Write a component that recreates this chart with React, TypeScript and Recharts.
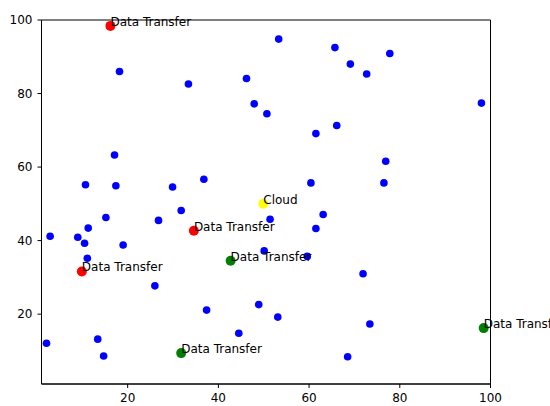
import { ReferenceArea, Scatter, ScatterChart, XAxis, YAxis } from 'recharts';

// plain network nodes (blue)
const nodeXs = [
  18.2, 33.4, 46.2, 47.9, 50.7, 17.1, 10.7, 17.4, 29.9, 36.8,
  53.3, 65.7, 77.8, 69.1, 72.7, 98.0, 66.1, 61.5, 76.9, 60.4, 76.5,
  51.4, 31.8, 26.8, 15.2, 2.9, 9.0, 11.3, 10.5, 19.0, 11.1, 50.1, 26.0, 37.4, 48.9, 53.1, 2.1, 13.4, 14.7, 44.5,
  63.1, 61.5, 59.6, 71.9, 73.4, 68.5,
];
const nodeYs = [
  86.0, 82.6, 84.1, 77.2, 74.5, 63.3, 55.2, 54.9, 54.6, 56.7,
  94.8, 92.5, 90.9, 88.0, 85.3, 77.4, 71.3, 69.1, 61.6, 55.7, 55.7,
  45.8, 48.2, 45.5, 46.3, 41.2, 40.9, 43.4, 39.3, 38.8, 35.2, 37.2, 27.7, 21.1, 22.6, 19.2, 12.1, 13.2, 8.6, 14.8,
  47.1, 43.3, 35.7, 31.0, 17.3, 8.4,
];

const redTransferXs = [16.2, 34.6, 9.9];
const redTransferYs = [98.4, 42.7, 31.6];
const greenTransferXs = [42.7, 31.8, 98.5];
const greenTransferYs = [34.5, 9.4, 16.2];
const cloudXs = [49.9];
const cloudYs = [50.0];

const transferLabel = 'Data Transfer';
const cloudLabel = 'Cloud';

const xTicks = [20, 40, 60, 80, 100];
const yTicks = [20, 40, 60, 80, 100];

type Pt = { x: number; y: number; label?: string };

const zip = (xs: number[], ys: number[], label?: string): Pt[] =>
  xs.map((x, i) => ({ x, y: ys[i], label }));

const nodes = zip(nodeXs, nodeYs);
const redTransfers = zip(redTransferXs, redTransferYs, transferLabel);
const greenTransfers = zip(greenTransferXs, greenTransferYs, transferLabel);
const cloud = zip(cloudXs, cloudYs, cloudLabel);
const labelled = [...redTransfers, ...greenTransfers, ...cloud];

const font = 'DejaVu Sans, sans-serif';

const dot = (r: number, fill: string) => (props: any) =>
  <circle cx={props.cx} cy={props.cy} r={r} fill={fill} />;

const labelShape = (props: any) => (
  <text x={props.cx} y={props.cy} fontSize={12} fontFamily={font} fill="#000">
    {props.payload.label}
  </text>
);

export default function App() {
  return (
    <div style={{ position: 'absolute', left: 0, top: 0, background: '#fff' }}>
      <ScatterChart width={550} height={406} margin={{ top: 20, right: 59.5, bottom: 0, left: 0.5 }}>
        <XAxis
          type="number"
          dataKey="x"
          domain={[1, 100]}
          ticks={xTicks}
          interval={0}
          height={22}
          tickSize={4}
          tickMargin={5}
          stroke="#000"
          tick={{ fill: '#000', fontSize: 12, fontFamily: font }}
        />
        <YAxis
          type="number"
          dataKey="y"
          domain={[1, 100]}
          ticks={yTicks}
          interval={0}
          width={41}
          tickSize={4}
          tickMargin={5}
          stroke="#000"
          tick={{ fill: '#000', fontSize: 12, fontFamily: font }}
        />
        <ReferenceArea x1={1} x2={100} y1={1} y2={100} fill="none" stroke="#000" strokeOpacity={1} />
        <Scatter data={nodes} shape={dot(3.8, '#0000ff')} isAnimationActive={false} />
        <Scatter data={redTransfers} shape={dot(5, '#ff0000')} isAnimationActive={false} />
        <Scatter data={greenTransfers} shape={dot(5, '#008000')} isAnimationActive={false} />
        <Scatter data={cloud} shape={dot(5, '#ffff00')} isAnimationActive={false} />
        <Scatter data={labelled} shape={labelShape} isAnimationActive={false} />
      </ScatterChart>
    </div>
  );
}
